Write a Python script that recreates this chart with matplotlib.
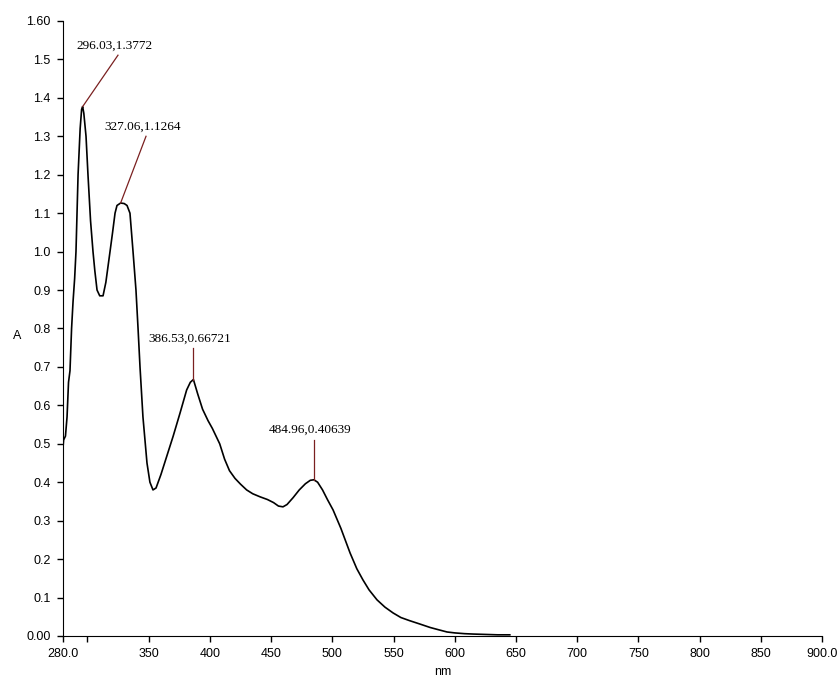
import matplotlib.pyplot as plt

wavelength = [
    280, 280.5, 282, 283.3, 284.5, 285.7, 287, 288.2, 289.5, 290.6, 292.3, 294,
    295.2, 296.03, 297, 298.8, 300.4, 302.5, 304.5, 306, 307.8, 310, 312.7, 315,
    318.4, 320.5, 322.5, 324.1, 327.06, 330, 332.3, 334.7, 337.2, 339.6, 341.3,
    342.9, 345.3, 348.6, 351, 353.5, 356, 360, 365, 370, 375.6, 381, 384, 386.53,
    390, 394, 398.5, 402, 405, 408, 412, 416, 420.5, 425, 430, 435, 441, 447, 452,
    456, 459.7, 463, 468, 473, 478, 482, 484.96, 488, 492, 496, 500.6, 507, 514.5,
    520, 525, 530, 536.5, 543, 549.6, 556, 563, 571.6, 580, 587, 593.7, 600, 608,
    615, 625, 635, 645,
]
absorbance = [
    0.49, 0.51, 0.52, 0.57, 0.66, 0.69, 0.80, 0.87, 0.93, 1.00, 1.20, 1.32,
    1.37, 1.3772, 1.36, 1.30, 1.20, 1.08, 1.00, 0.95, 0.90, 0.885, 0.885, 0.92,
    1.00, 1.05, 1.10, 1.12, 1.1264, 1.125, 1.12, 1.10, 1.00, 0.90, 0.80,
    0.70, 0.57, 0.45, 0.40, 0.38, 0.385, 0.42, 0.47, 0.52, 0.58, 0.64, 0.66, 0.6672,
    0.63, 0.59, 0.56, 0.54, 0.52, 0.50, 0.46, 0.43, 0.41, 0.395, 0.38, 0.37, 0.362,
    0.355, 0.347, 0.338, 0.336, 0.342, 0.36, 0.38, 0.396, 0.405, 0.4064, 0.40,
    0.38, 0.355, 0.328, 0.28, 0.216, 0.175, 0.146, 0.12, 0.094, 0.075, 0.06,
    0.048, 0.04, 0.031, 0.022, 0.016, 0.0104, 0.008, 0.006, 0.005, 0.004, 0.003,
    0.003,
]

# пики и подписи к ним
peak_x = [296.03, 327.06, 386.53, 484.96]
peak_y = [1.3772, 1.1264, 0.66721, 0.40639]
peak_labels = ["296.03,1.3772", "327.06,1.1264", "386.53,0.66721", "484.96,0.40639"]
label_x = [324.9, 347.8, 386.53, 484.96]
label_y = [1.511, 1.30, 0.749, 0.51]

xticks = [280, 300, 350, 400, 450, 500, 550, 600, 650, 700, 750, 800, 850, 900]
xticklabels = ["280.0", "", "350", "400", "450", "500", "550", "600", "650",
               "700", "750", "800", "850", "900.0"]
yticks = [0, 0.1, 0.2, 0.3, 0.4, 0.5, 0.6, 0.7, 0.8, 0.9, 1.0, 1.1, 1.2, 1.3,
          1.4, 1.5, 1.6]
yticklabels = ["0.00", "0.1", "0.2", "0.3", "0.4", "0.5", "0.6", "0.7", "0.8",
               "0.9", "1.0", "1.1", "1.2", "1.3", "1.4", "1.5", "1.60"]

fig = plt.figure(figsize=(8.39, 6.77), dpi=100)
ax = fig.add_axes([0.0751, 0.0606, 0.9046, 0.9084])

ax.plot(wavelength, absorbance, color="black", linewidth=1.2)

for px, py, lx, ly, txt in zip(peak_x, peak_y, label_x, label_y, peak_labels):
    ax.plot([px, lx], [py, ly], color="#7a2020", linewidth=0.9)
    ax.text(lx - 3, ly + 0.01, txt, ha="center", va="bottom",
            fontsize=9.5, family="Liberation Serif")

ax.set_xlim(280, 900)
ax.set_ylim(0, 1.6)
ax.set_xticks(xticks)
ax.set_xticklabels(xticklabels)
ax.set_yticks(yticks)
ax.set_yticklabels(yticklabels)
ax.tick_params(direction="out", length=4, width=1, labelsize=9, pad=5)
for lbl in ax.get_xticklabels() + ax.get_yticklabels():
    lbl.set_family("Liberation Sans")

ax.spines["top"].set_visible(False)
ax.spines["right"].set_visible(False)

ax.set_xlabel("nm", fontsize=9, family="Liberation Sans", labelpad=4)
ax.text(-0.06, 0.487, "A", transform=ax.transAxes, fontsize=9,
        family="Liberation Sans", ha="center", va="center")

fig.savefig("out.png", dpi=100)
